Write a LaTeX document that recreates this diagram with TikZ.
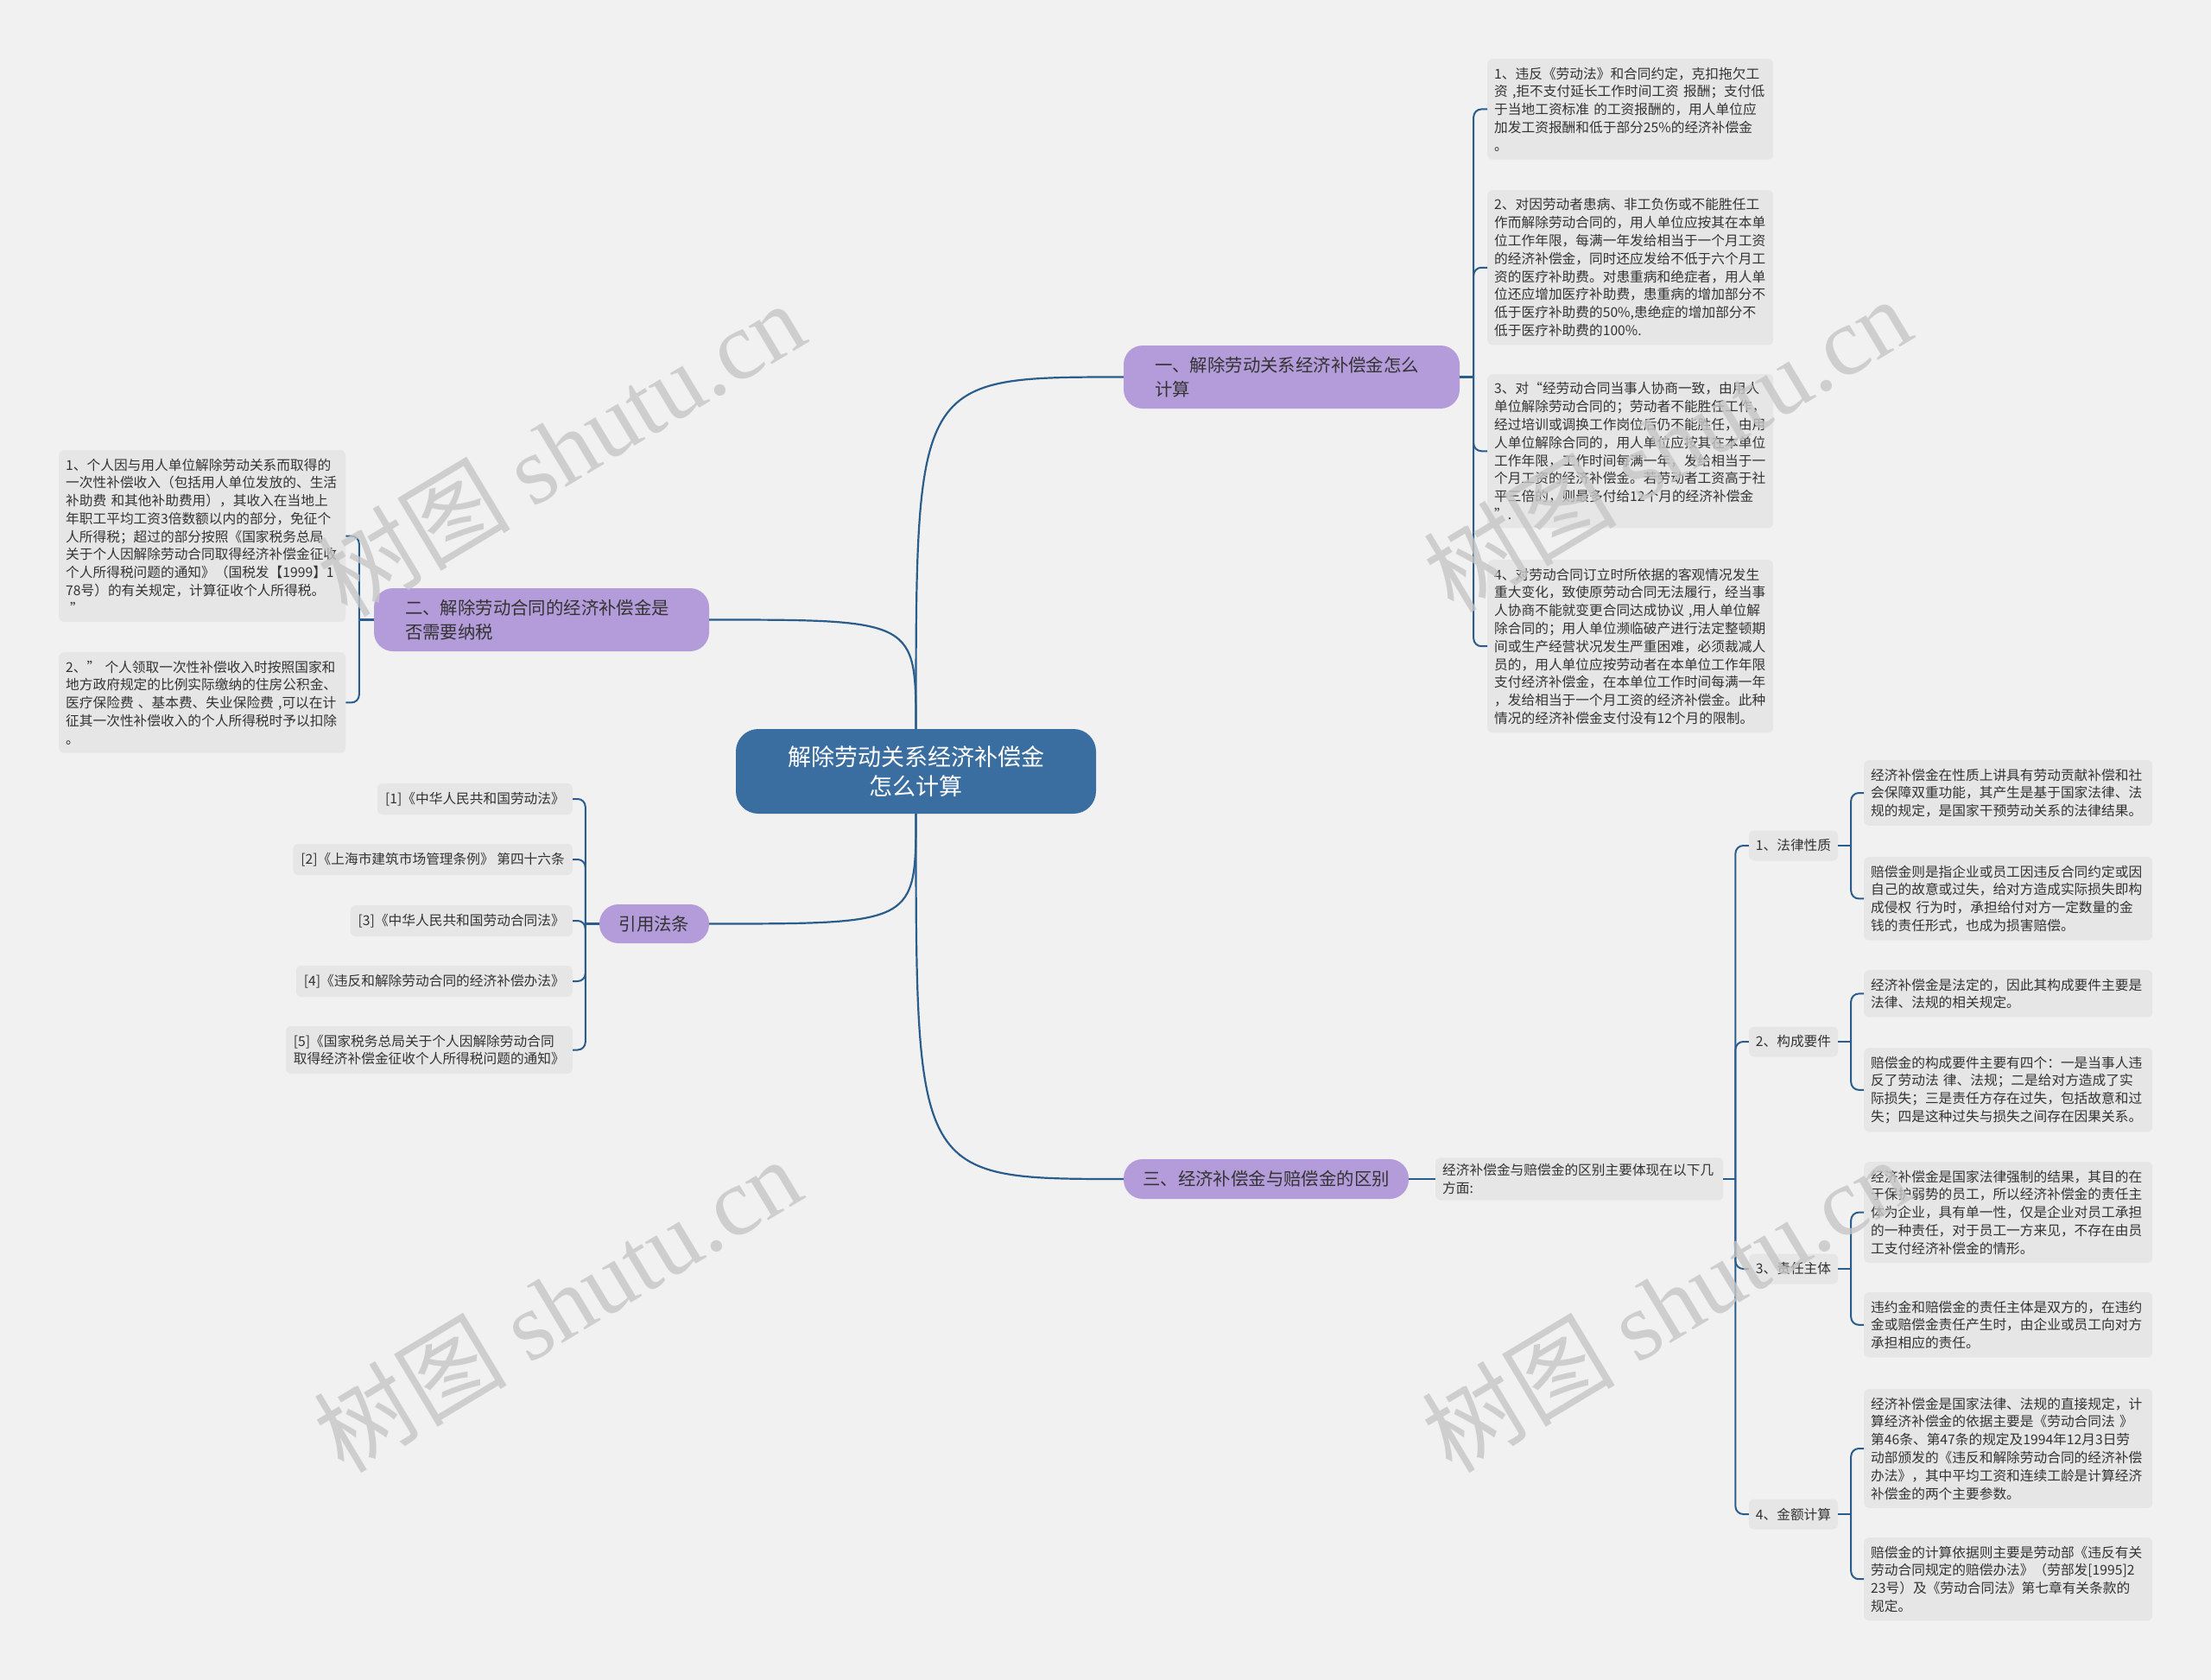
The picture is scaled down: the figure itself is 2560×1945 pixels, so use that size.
\documentclass[tikz,border=0pt]{standalone}
\usepackage{fontspec}
\setmainfont{Noto Sans CJK SC}
\newfontfamily\wmlatin{Liberation Serif}
\usetikzlibrary{calc}
\definecolor{bgc}{HTML}{F1F1F1}
\definecolor{boxc}{HTML}{E6E6E6}
\definecolor{txt}{HTML}{333333}
\definecolor{linec}{HTML}{2B5D8C}
\definecolor{rootc}{HTML}{3B6EA0}
\definecolor{purp}{HTML}{B49CDA}
\definecolor{wmc}{HTML}{C6C6C6}
\tikzset{
  leaf/.style={fill=boxc, rounded corners=6pt, text=txt, font=\fontsize{15.7}{20.8}\selectfont, align=left, inner xsep=8pt, inner ysep=9.5pt},
  lawref/.style={fill=boxc, rounded corners=6pt, text=txt, font=\fontsize{15.7}{20.8}\selectfont, align=left, inner xsep=9pt, inner ysep=4pt, minimum height=36pt, anchor=east},
  sublbl/.style={fill=boxc, rounded corners=6pt, text=txt, font=\fontsize{15.7}{20.8}\selectfont, minimum width=103pt, minimum height=35pt, inner sep=0pt},
  rootnode/.style={fill=rootc, rounded corners=26pt, text=white, font=\fontsize{27}{34}\selectfont, align=center, minimum width=417pt, minimum height=98pt, inner sep=0pt},
  branch/.style={fill=purp, rounded corners=22pt, text=txt, font=\fontsize{20.4}{27.8}\selectfont, inner sep=0pt},
  conn/.style={draw=linec, line width=2.2pt},
  brk/.style={draw=linec, line width=2pt, rounded corners=9pt},
  wm/.style={text=wmc, text opacity=0.8, font=\fontsize{112}{112}\selectfont, inner sep=0pt, rotate=31}
}
\begin{document}
\begin{tikzpicture}[x=1pt,y=-1pt]
\fill[bgc] (0,0) rectangle (2560,1945);
\useasboundingbox (0,0) rectangle (2560,1945);

% root
\node[rootnode] (c) at (1060.5,893) {解除劳动关系经济补偿金\\怎么计算};

% main branches
\node[branch, minimum width=389pt, minimum height=73pt, text width=317pt, align=left] (B1) at (1495.5,436.5) {一、解除劳动关系经济补偿金怎么\\计算};
\node[branch, minimum width=388pt, minimum height=73pt, text width=316pt, align=left] (B2) at (627,717.5) {二、解除劳动合同的经济补偿金是\\否需要纳税};
\node[branch, minimum width=127pt, minimum height=45pt] (B4) at (757.5,1069.5) {引用法条};
\node[branch, minimum width=330pt, minimum height=46pt] (B3) at (1466,1365) {三、经济补偿金与赔偿金的区别};

\draw[conn] (c.north) .. controls (c.north |- B1.west) .. (B1.west);
\draw[conn] (c.north) .. controls (c.north |- B2.east) .. (B2.east);
\draw[conn] (c.south) .. controls (c.south |- B4.east) .. (B4.east);
\draw[conn] (c.south) .. controls (c.south |- B3.west) .. (B3.west);

% branch 1 children
\node[leaf, text width=315pt, anchor=north west] (c1) at (1722,68) {1、违反《劳动法》和合同约定，克扣拖欠工\\资 ,拒不支付延长工作时间工资 报酬；支付低\\于当地工资标准 的工资报酬的，用人单位应\\加发工资报酬和低于部分25\%的经济补偿金\\。};
\node[leaf, text width=315pt, anchor=north west] (c2) at (1722,220) {2、对因劳动者患病、非工负伤或不能胜任工\\作而解除劳动合同的，用人单位应按其在本单\\位工作年限，每满一年发给相当于一个月工资\\的经济补偿金，同时还应发给不低于六个月工\\资的医疗补助费。对患重病和绝症者，用人单\\位还应增加医疗补助费，患重病的增加部分不\\低于医疗补助费的50\%,患绝症的增加部分不\\低于医疗补助费的100\%.};
\node[leaf, text width=315pt, anchor=north west] (c3) at (1722,433) {3、对“经劳动合同当事人协商一致，由用人\\单位解除劳动合同的；劳动者不能胜任工作，\\经过培训或调换工作岗位后仍不能胜任，由用\\人单位解除合同的，用人单位应按其在本单位\\工作年限，工作时间每满一年，发给相当于一\\个月工资的经济补偿金。若劳动者工资高于社\\平三倍的，则最多付给12个月的经济补偿金\\”.};
\node[leaf, text width=315pt, anchor=north west] (c4) at (1722,648) {4、对劳动合同订立时所依据的客观情况发生\\重大变化，致使原劳动合同无法履行，经当事\\人协商不能就变更合同达成协议 ,用人单位解\\除合同的；用人单位濒临破产进行法定整顿期\\间或生产经营状况发生严重困难，必须裁减人\\员的，用人单位应按劳动者在本单位工作年限\\支付经济补偿金，在本单位工作时间每满一年\\，发给相当于一个月工资的经济补偿金。此种\\情况的经济补偿金支付没有12个月的限制。};
\draw[conn] (B1.east) -- ++(16,0) coordinate (k1);
\foreach \n in {c1,c2,c3,c4} \draw[brk] (k1) |- (\n.west);

% branch 2 children
\node[leaf, text width=316pt, anchor=north west] (L1) at (68,521) {1、个人因与用人单位解除劳动关系而取得的\\一次性补偿收入（包括用人单位发放的、生活\\补助费 和其他补助费用），其收入在当地上\\年职工平均工资3倍数额以内的部分，免征个\\人所得税；超过的部分按照《国家税务总局\\关于个人因解除劳动合同取得经济补偿金征收\\个人所得税问题的通知》（国税发【1999】1\\78号）的有关规定，计算征收个人所得税。\\\hspace*{5pt}”};
\node[leaf, text width=316pt, anchor=north west] (L2) at (68,755) {2、” 个人领取一次性补偿收入时按照国家和\\地方政府规定的比例实际缴纳的住房公积金、\\医疗保险费 、基本费、失业保险费 ,可以在计\\征其一次性补偿收入的个人所得税时予以扣除\\。};
\draw[conn] (B2.west) -- ++(-17,0) coordinate (k2);
\foreach \n in {L1,L2} \draw[brk] (k2) |- (\n.east);

% law references
\node[lawref] (R1) at (663,925) {[1]《中华人民共和国劳动法》};
\node[lawref] (R2) at (663,995) {[2]《上海市建筑市场管理条例》 第四十六条};
\node[lawref] (R3) at (663,1066) {[3]《中华人民共和国劳动合同法》};
\node[lawref] (R4) at (663,1136) {[4]《违反和解除劳动合同的经济补偿办法》};
\node[lawref, minimum height=55pt] (R5) at (663,1215.5) {[5]《国家税务总局关于个人因解除劳动合同\\取得经济补偿金征收个人所得税问题的通知》};
\draw[conn] (B4.west) -- ++(-16,0) coordinate (k4);
\foreach \n in {R1,R2,R3,R4,R5} \draw[brk] (k4) |- (\n.east);

% branch 3
\node[leaf, text width=317pt, anchor=west, inner ysep=7pt] (d0) at (1662,1365) {经济补偿金与赔偿金的区别主要体现在以下几\\方面:};
\draw[conn] (B3.east) -- (d0.west);

\node[sublbl] (s1) at (2076.5,979) {1、法律性质};
\node[sublbl] (s2) at (2076.5,1206) {2、构成要件};
\node[sublbl] (s3) at (2076.5,1469) {3、责任主体};
\node[sublbl] (s4) at (2076.5,1753) {4、金额计算};
\draw[conn] (d0.east) -- ++(14,0) coordinate (k3);
\foreach \n in {s1,s2,s3,s4} \draw[brk] (k3) |- (\n.west);

\node[leaf, text width=318pt, anchor=north west] (a1) at (2158,880) {经济补偿金在性质上讲具有劳动贡献补偿和社\\会保障双重功能，其产生是基于国家法律、法\\规的规定，是国家干预劳动关系的法律结果。};
\node[leaf, text width=318pt, anchor=north west] (a2) at (2158,992) {赔偿金则是指企业或员工因违反合同约定或因\\自己的故意或过失，给对方造成实际损失即构\\成侵权 行为时，承担给付对方一定数量的金\\钱的责任形式，也成为损害赔偿。};
\node[leaf, text width=318pt, anchor=north west] (b1) at (2158,1123) {经济补偿金是法定的，因此其构成要件主要是\\法律、法规的相关规定。};
\node[leaf, text width=318pt, anchor=north west] (b2) at (2158,1213) {赔偿金的构成要件主要有四个：一是当事人违\\反了劳动法 律、法规；二是给对方造成了实\\际损失；三是责任方存在过失，包括故意和过\\失；四是这种过失与损失之间存在因果关系。};
\node[leaf, text width=318pt, anchor=north west] (e1) at (2158,1345) {经济补偿金是国家法律强制的结果，其目的在\\于保护弱势的员工，所以经济补偿金的责任主\\体为企业，具有单一性，仅是企业对员工承担\\的一种责任，对于员工一方来见，不存在由员\\工支付经济补偿金的情形。};
\node[leaf, text width=318pt, anchor=north west] (e2) at (2158,1496) {违约金和赔偿金的责任主体是双方的，在违约\\金或赔偿金责任产生时，由企业或员工向对方\\承担相应的责任。};
\node[leaf, text width=318pt, anchor=north west] (f1) at (2158,1608) {经济补偿金是国家法律、法规的直接规定，计\\算经济补偿金的依据主要是《劳动合同法 》\\第46条、第47条的规定及1994年12月3日劳\\动部颁发的《违反和解除劳动合同的经济补偿\\办法》，其中平均工资和连续工龄是计算经济\\补偿金的两个主要参数。};
\node[leaf, text width=318pt, anchor=north west] (f2) at (2158,1780) {赔偿金的计算依据则主要是劳动部《违反有关\\劳动合同规定的赔偿办法》（劳部发[1995]2\\23号）及《劳动合同法》第七章有关条款的\\规定。};

\draw[conn] (s1.east) -- ++(15,0) coordinate (m1);
\foreach \n in {a1,a2} \draw[brk] (m1) |- (\n.west);
\draw[conn] (s2.east) -- ++(15,0) coordinate (m2);
\foreach \n in {b1,b2} \draw[brk] (m2) |- (\n.west);
\draw[conn] (s3.east) -- ++(15,0) coordinate (m3);
\foreach \n in {e1,e2} \draw[brk] (m3) |- (\n.west);
\draw[conn] (s4.east) -- ++(15,0) coordinate (m4);
\foreach \n in {f1,f2} \draw[brk] (m4) |- (\n.west);

% watermarks
\node[wm] (w1) at (649,519) {树图 {\wmlatin shutu.cn}};
\node[wm] (w2) at (1930,514) {树图 {\wmlatin shutu.cn}};
\node[wm] (w3) at (645,1510) {树图 {\wmlatin shutu.cn}};
\node[wm] (w4) at (1928,1510) {树图 {\wmlatin shutu.cn}};
\end{tikzpicture}
\end{document}
